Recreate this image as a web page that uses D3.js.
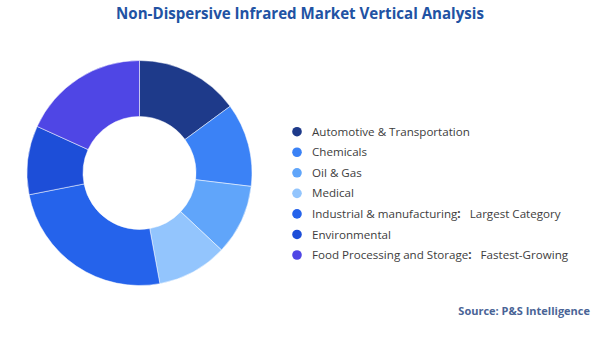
<!DOCTYPE html>
<html>
<head>
<meta charset="utf-8">
<script src="https://cdn.jsdelivr.net/npm/d3@7"></script>
<style>
  body { margin: 0; background: #fff; }
  svg { font-family: "Open Sans", sans-serif; }
</style>
</head>
<body>
<div class="chart"></div>
<script>
var categories = [
  "Automotive & Transportation",
  "Chemicals",
  "Oil & Gas",
  "Medical",
  "Industrial & manufacturing",
  "Environmental",
  "Food Processing and Storage"
];
var shares = [14.9, 12.0, 10.1, 10.1, 24.8, 9.9, 18.2];
var notes = ["", "", "", "", "Largest Category", "", "Fastest-Growing"];
var colors = ["#1e3a8a", "#3b82f6", "#60a5fa", "#93c5fd", "#2563eb", "#1d4ed8", "#4f46e5"];

var svgWidth = 600;
var svgHeight = 337;

var svg = d3.select(".chart")
  .append("svg")
  .attr("width", svgWidth)
  .attr("height", svgHeight);

// Title
svg.append("text")
  .attr("x", 300)
  .attr("y", 19)
  .attr("text-anchor", "middle")
  .attr("font-size", "15.1px")
  .attr("font-weight", "bold")
  .attr("fill", "#2152a3")
  .text("Non-Dispersive Infrared Market Vertical Analysis");

// Donut
var outerR = 112.5;
var innerR = 56.5;

var pie = d3.pie().sort(null).value(d => d);
var arc = d3.arc().innerRadius(innerR).outerRadius(outerR);

var donut = svg.append("g")
  .attr("transform", "translate(139.5, 173)");

donut.selectAll("path")
  .data(pie(shares))
  .enter()
  .append("path")
  .attr("d", arc)
  .attr("fill", (d, i) => colors[i])
  .attr("stroke", "#fff")
  .attr("stroke-width", 0.5);

// Legend
var legendY = d3.scalePoint()
  .domain(categories)
  .range([131.7, 255]);

var legend = svg.append("g");

var rows = legend.selectAll("g")
  .data(categories)
  .enter()
  .append("g")
  .attr("transform", d => `translate(0, ${legendY(d)})`);

rows.append("circle")
  .attr("cx", 297)
  .attr("r", 4.8)
  .attr("fill", (d, i) => colors[i]);

var labels = rows.append("text")
  .attr("x", 312)
  .attr("dy", "0.35em")
  .attr("font-size", "11.6px")
  .attr("fill", "#3d3d3d");

labels.append("tspan").text(d => d);
labels.filter((d, i) => notes[i] !== "")
  .append("tspan")
  .attr("font-weight", "bold")
  .text(":");
labels.filter((d, i) => notes[i] !== "")
  .append("tspan")
  .attr("dx", 9)
  .text((d) => notes[categories.indexOf(d)]);

// Source
svg.append("text")
  .attr("x", 590)
  .attr("y", 315)
  .attr("text-anchor", "end")
  .attr("font-size", "11px")
  .attr("font-weight", "bold")
  .attr("fill", "#4a6496")
  .text("Source: P&S Intelligence");
</script>
</body>
</html>
